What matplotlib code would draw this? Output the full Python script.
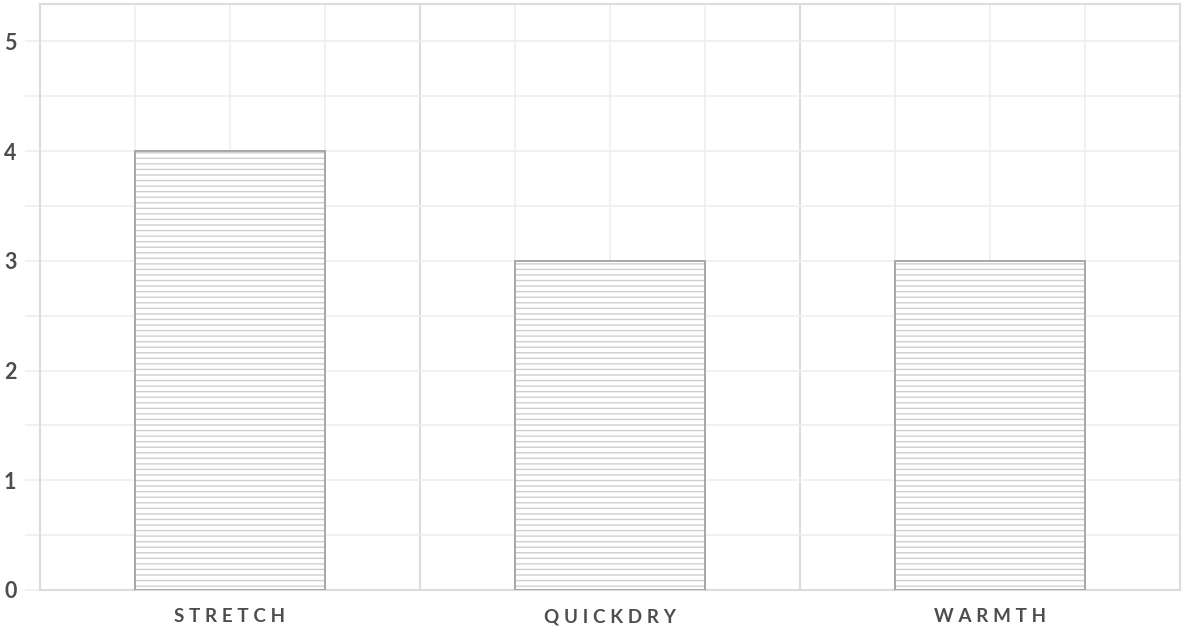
import numpy as np
import matplotlib
matplotlib.use("Agg")
import matplotlib.pyplot as plt

# ── Data ──────────────────────────────────────────────────────────────────────
categories = ["STRETCH", "QUICKDRY", "WARMTH"]
scores     = [4, 3, 3]
y_ticks    = [0, 1, 2, 3, 4, 5]

GRID_LIGHT = "#efefef"
GRID_SEP   = "#dcdcdc"
HATCH_COL  = "#cfcfcf"
EDGE_COL   = "#9a9a9a"
TEXT_COL   = "#4d4d4d"

plt.rcParams["font.family"] = ["Lato", "DejaVu Sans"]
plt.rcParams["hatch.linewidth"] = 1.0

fig = plt.figure(figsize=(11.99, 6.33), dpi=100)
ax = fig.add_axes([40 / 1199, 43 / 633, 1140 / 1199, 586 / 633])

x = np.arange(len(categories)) + 0.5

# hatched fill, then outline on top
ax.bar(x, scores, width=0.5, color="white", edgecolor=HATCH_COL,
       hatch="---", linewidth=0, zorder=3)
ax.bar(x, scores, width=0.5, fill=False, edgecolor=EDGE_COL,
       linewidth=1.2, zorder=4)

ax.set_xlim(0, len(categories))
ax.set_ylim(0, 5.34)

# horizontal grid every 0.5, labels only on whole numbers
half_steps = np.arange(0, 5.5, 0.5)
ax.set_yticks(half_steps)
ax.set_yticklabels([str(int(v)) if v in y_ticks else "" for v in half_steps])
ax.grid(axis="y", color=GRID_LIGHT, linewidth=1.2, zorder=0)

# vertical lines: light at quarter positions, darker between categories
for i in range(len(categories)):
    for q in (0.25, 0.5, 0.75):
        ax.axvline(i + q, color=GRID_LIGHT, linewidth=1.2, zorder=1)
    if i > 0:
        ax.axvline(i, color=GRID_SEP, linewidth=1.5, zorder=1)

ax.set_xticks(x)
ax.set_xticklabels(["\u2009\u2009".join(c) for c in categories])
ax.tick_params(axis="x", length=0, pad=13, labelsize=13.5, labelcolor=TEXT_COL)
ax.tick_params(axis="y", length=11, width=1.2, color=GRID_LIGHT, pad=6,
               labelsize=15.5, labelcolor=TEXT_COL)
for lbl in ax.get_xticklabels() + ax.get_yticklabels():
    lbl.set_fontweight("bold")

for side in ("top", "right", "left", "bottom"):
    ax.spines[side].set_color(GRID_SEP)
    ax.spines[side].set_linewidth(1.5)

fig.savefig("out.png", dpi=100)
